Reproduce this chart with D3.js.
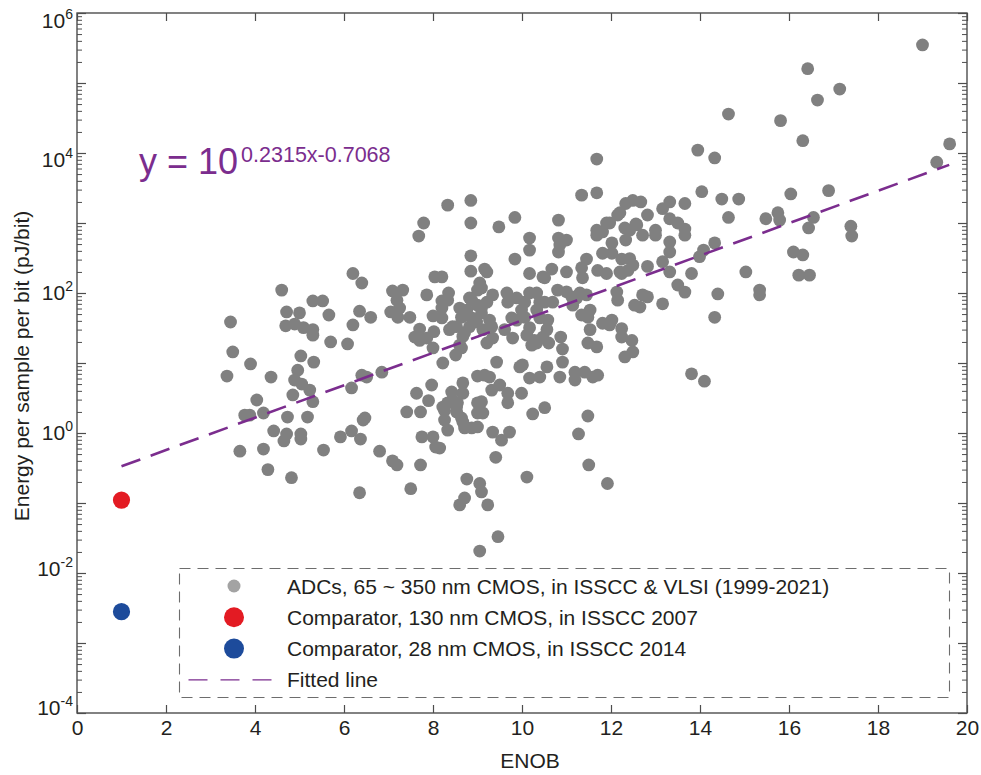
<!DOCTYPE html>
<html>
<head>
<meta charset="utf-8">
<script src="https://cdn.jsdelivr.net/npm/d3@7"></script>
<style>
  body { margin: 0; background: #fff; }
  text { font-family: "Liberation Sans", Arial, sans-serif; }
</style>
</head>
<body>
<div id="chart"></div>
<script>
// ---- data: [ENOB, energy per sample per bit (pJ/bit)]
const adcPoints = [
  [19.0,3.5e5],[16.42,1.6e5],[17.14,8.2e4],[16.64,5.7e4],[14.64,3.6e4],[15.81,2.9e4],[16.31,1.5e4],
  [19.61,1.35e4],[13.95,1.1e4],[14.33,8500],[19.32,7400],[11.68,8200],
  [14.04,2800],[16.04,2600],[16.89,2900],[14.49,2200],[14.87,2200],[13.66,1900],[13.32,2000],
  [12.67,2000],[12.49,2100],[12.33,1900],[13.16,1600],[12.82,1300],[14.64,1200],[15.75,1400],
  [15.79,1100],[15.48,1150],[16.55,1200],[16.44,850],[17.39,900],[17.41,650],[13.32,1150],
  [13.5,1000],[13.66,820],[13.66,670],[13.0,790],[13.0,670],[12.71,670],[12.56,970],[12.42,790],
  [14.33,520],[14.08,410],[13.99,330],[13.32,535],[13.32,385],[13.16,280],[13.32,200],[16.1,385],
  [16.31,350],[12.2,1400],[12.31,850],[12.33,570],[12.82,240],[12.24,305],[12.42,310],[12.49,250],
  [12.38,210],[12.24,190],[13.81,190],[15.03,200],[16.22,180],[16.46,180],
  [8.33,1800],[8.85,2100],[8.85,1000],[7.79,1000],[7.68,650],[9.48,880],[9.84,1200],[10.82,1100],
  [11.34,2500],[11.68,2700],[10.17,610],[10.17,410],[10.82,610],[11.0,570],[10.82,385],[8.85,340],
  [9.84,305],[8.85,205],[9.16,220],[8.04,170],[8.2,170],[10.17,190],[10.67,220],[10.47,170],
  [11.0,200],[11.45,305],[11.34,230],[11.7,210],[11.9,190],[11.68,790],[11.68,670],[11.9,1000],
  [11.97,1000],[12.15,1300],[12.58,940],[12.02,520],[11.81,370],[12.02,370],[12.2,200],[10.85,485],
  [11.81,745],[9.21,200],[8.35,100],[10.51,165],[11.36,165],[13.5,130],[13.66,103],[14.4,97],
  [14.33,45],[13.16,70],[12.71,94],[12.82,88],[12.53,67],[12.65,63],[12.13,103],[12.15,79],
  [12.02,41],[12.24,31],[12.24,23.5],[12.47,21],[12.49,14.4],[12.31,12.2],[11.81,37],[11.97,35],
  [11.48,45],[11.53,30],[11.48,19.3],[11.68,17],[11.34,48.5],[11.14,67],[11.23,85],[11.3,100],
  [11.45,94],[11.53,57],[10.8,110],[11.0,104],[11.12,88],[10.69,74],[10.51,74],[10.33,100],
  [10.4,74],[10.33,57],[10.4,44],[10.58,41],[10.56,30],[10.17,100],[10.06,74],[9.99,57],
  [10.06,45],[10.17,32],[10.28,21],[9.88,41],[9.77,44],[9.66,100],[9.68,74],[9.88,85],[9.34,94],
  [9.21,74],[9.09,61],[9.05,139],[9.09,118],
  [8.87,79],[8.76,57],[8.6,61],[8.64,45],[8.87,44],[8.98,38.5],[9.09,52],[9.27,41],[9.32,33],
  [8.82,33],[8.71,27],[9.12,30],[9.0,110],[8.82,85],[9.0,67],[8.67,24],[8.6,18],[8.51,13],
  [8.64,16.4],[8.44,33],[8.37,30],[8.33,79],[9.34,22.7],[9.21,19.3],[9.61,30],[9.79,22.7],
  [10.11,25],[10.22,18],[10.33,19.3],[10.6,19.3],[10.87,23.5],[10.91,15.8],[10.47,23.5],[8.22,10],
  [9.43,10.3],[9.16,6.7],[9.27,6.3],[9.95,8.8],[10.01,9.4],[10.17,6.1],[10.4,6.3],[10.56,8.8],
  [10.85,6.3],[10.91,10.3],[11.19,7.4],[11.19,5.7],[11.41,7.4],[11.59,6.3],[11.7,6.7],[8.67,5.2],
  [8.67,3.7],[8.42,3.85],[8.33,2.7],[8.22,2.35],[8.55,2.7],[8.53,2.0],[8.64,1.64],[8.71,1.18],
  [8.87,1.18],[9.0,1.22],[8.26,1.53],[8.33,1.1],[9.09,2.8],[9.12,1.93],[9.32,4.1],[9.5,4.85],
  [9.68,3.7],[9.68,2.7],[9.99,3.7],[9.34,1.03],[9.54,0.79],[9.72,1.03],[10.24,1.87],[10.51,2.3],
  [11.48,1.75],[11.27,0.97],[9.41,0.45],[10.11,0.235],[8.76,0.22],[9.05,0.19],[9.09,0.144],
  [9.23,0.094],[8.71,0.118],[8.6,0.094],[11.5,0.35],[11.92,0.19],[13.81,7.0],[14.1,5.5],[8.15,0.61],
  [15.34,110],[15.34,94],[9.05,0.0206],[9.46,0.033],
  [6.2,190],[6.4,139],[4.6,110],[3.45,38.5],[4.71,53.6],[5.0,52],[5.3,77],[5.52,77],[5.66,48.5],
  [6.35,55],[6.6,45],[6.2,35],[4.69,34],[4.89,36],[5.09,32],[5.3,30],[5.3,25],[5.7,20],[6.08,18.7],
  [7.09,107],[7.32,110],[7.19,79],[7.25,61],[7.05,53.6],[7.21,45],[7.48,45],[7.86,94],[8.2,77],
  [8.2,61],[8.0,47],[8.2,44],[7.7,30.5],[7.59,23.5],[7.7,21],[7.86,22.7],[8.02,28],[8.53,33],
  [8.0,16.4],[3.5,14.4],[3.9,9.7],[3.37,6.5],[4.36,6.3],[5.03,12.6],[5.32,10.3],[4.96,7.9],
  [4.89,5.7],[5.05,5.0],[5.23,4.1],[5.3,2.8],[4.85,3.5],[4.04,2.96],[3.77,1.8],[3.88,1.8],
  [4.19,1.93],[4.73,1.69],[5.18,1.69],[4.42,1.07],[4.71,0.97],[4.65,0.77],[5.03,0.97],[5.03,0.82],
  [6.17,4.4],[6.4,6.7],[6.51,6.3],[6.85,7.4],[6.43,1.53],[6.47,1.64],[6.17,1.07],[5.92,0.88],
  [6.37,0.82],[5.54,0.57],[3.66,0.55],[4.19,0.59],[4.29,0.3],[4.82,0.23],[6.8,0.55],[7.09,0.4],
  [7.19,0.35],[7.72,0.35],[6.35,0.14],[7.5,0.16],[7.41,2.0],[7.72,2.0],[7.63,3.7],[7.9,2.9],
  [7.97,4.85],[7.75,0.88],[8.0,0.88],[8.06,0.63],[8.26,2.1],[8.44,2.96],[8.53,2.35],[8.67,1.44],
  [9.0,2.7],[9.0,1.93],[9.0,6.5]
];

const compEnob   = [1, 1];
const compEnergy = [0.11, 0.0028];
const compColors = ["#e31b23", "#1d4b9b"];

const fitSlope = 0.2315;
const fitIntercept = -0.7068;
const fitRange = [1, 19.6];

const xTicks = [0, 2, 4, 6, 8, 10, 12, 14, 16, 18, 20];
const yExps  = [-4, -2, 0, 2, 4, 6];

const legendLabels = [
  "ADCs, 65 ~ 350 nm CMOS, in ISSCC & VLSI (1999-2021)",
  "Comparator, 130 nm CMOS, in ISSCC 2007",
  "Comparator, 28 nm CMOS, in ISSCC 2014",
  "Fitted line"
];

// ---- layout
const W = 981, H = 775;
const plotL = 77, plotR = 967, plotT = 13, plotB = 713;
const axisColor = "#4d4d4d", textColor = "#231f20", purple = "#7b2d8e", dotGray = "#808080";
// baseline offsets of the y tick labels (the original nudges the top ones down)
const yLabelShift = {"-4": 2, "-2": 3, "0": 7, "2": 7, "4": 14, "6": 15};

const x = d3.scaleLinear().domain([0, 20]).range([plotL, plotR]);
const y = d3.scaleLog().domain([1e-4, 1e6]).range([plotB, plotT]);

const yMinor = [];
for (let k = -4; k < 6; k++)
  for (let m = 2; m <= 9; m++) yMinor.push(m * Math.pow(10, k));
const yDecadeTicks = d3.range(-4, 7).map(e => Math.pow(10, e));

const svg = d3.select("#chart").append("svg")
  .attr("width", W).attr("height", H)
  .style("background", "#fff");

function styleAxis(g, w) {
  g.select(".domain").remove();
  g.selectAll("line").attr("stroke", axisColor).attr("stroke-width", w || 1.2);
  g.selectAll("text").attr("font-size", 21).attr("fill", textColor)
    .attr("font-family", '"Liberation Sans", Arial, sans-serif');
}

// x axes
svg.append("g").attr("transform", `translate(0,${plotB})`)
  .call(d3.axisBottom(x).tickValues(xTicks).tickSize(-8).tickPadding(7).tickFormat(d3.format("d")))
  .call(g => styleAxis(g));
svg.append("g").attr("transform", `translate(0,${plotT})`)
  .call(d3.axisTop(x).tickValues(xTicks).tickSize(-8).tickFormat(""))
  .call(g => styleAxis(g));

// y axes (major + minor, both sides)
svg.append("g").attr("transform", `translate(${plotL},0)`)
  .call(d3.axisLeft(y).tickValues(yDecadeTicks).tickSize(-9).tickFormat(""))
  .call(g => styleAxis(g));
svg.append("g").attr("transform", `translate(${plotL},0)`)
  .call(d3.axisLeft(y).tickValues(yMinor).tickSize(-5).tickFormat(""))
  .call(g => styleAxis(g, 1));
svg.append("g").attr("transform", `translate(${plotR},0)`)
  .call(d3.axisRight(y).tickValues(yDecadeTicks).tickSize(-9).tickFormat(""))
  .call(g => styleAxis(g));
svg.append("g").attr("transform", `translate(${plotR},0)`)
  .call(d3.axisRight(y).tickValues(yMinor).tickSize(-5).tickFormat(""))
  .call(g => styleAxis(g, 1));

// frame
svg.append("rect")
  .attr("x", plotL).attr("y", plotT)
  .attr("width", plotR - plotL).attr("height", plotB - plotT)
  .attr("fill", "none").attr("stroke", axisColor).attr("stroke-width", 1.4);

// y tick labels: 10^n
const yLab = svg.append("g").selectAll("text").data(yExps).join("text")
  .attr("x", plotL - 4)
  .attr("y", d => y(Math.pow(10, d)) + yLabelShift[d])
  .attr("text-anchor", "end")
  .attr("font-size", 21)
  .attr("fill", textColor);
yLab.append("tspan").text("10");
yLab.append("tspan").attr("font-size", 14).attr("dy", -9).text(d => d);

// axis titles
svg.append("text")
  .attr("transform", "translate(29,366) rotate(-90)")
  .attr("text-anchor", "middle")
  .attr("font-size", 21).attr("fill", textColor)
  .text("Energy per sample per bit (pJ/bit)");
svg.append("text")
  .attr("x", 530).attr("y", 768)
  .attr("text-anchor", "middle")
  .attr("font-size", 21).attr("fill", textColor)
  .text("ENOB");

// ADC scatter
svg.append("g").selectAll("circle").data(adcPoints).join("circle")
  .attr("cx", d => x(d[0]))
  .attr("cy", d => y(d[1]))
  .attr("r", 6.4)
  .attr("fill", dotGray);

// comparators
svg.append("g").selectAll("circle").data(compEnob).join("circle")
  .attr("cx", d => x(d))
  .attr("cy", (d, i) => y(compEnergy[i]))
  .attr("r", 8.6)
  .attr("fill", (d, i) => compColors[i]);

// fitted line
const fitLine = d3.line()
  .x(d => x(d))
  .y(d => y(Math.pow(10, fitSlope * d + fitIntercept)));
svg.append("path")
  .datum(fitRange)
  .attr("d", fitLine)
  .attr("fill", "none")
  .attr("stroke", purple)
  .attr("stroke-width", 2.6)
  .attr("stroke-dasharray", "20,11");

// equation
const eq = svg.append("text")
  .attr("x", 139).attr("y", 174)
  .attr("fill", purple)
  .attr("font-size", 36);
eq.append("tspan").text("y = 10");
eq.append("tspan").attr("font-size", 21.5).attr("dy", -12).attr("dx", 3)
  .text(`${fitSlope}x${fitIntercept}`);

// legend
const lg = svg.append("g");
lg.append("rect")
  .attr("x", 179.5).attr("y", 568.5)
  .attr("width", 770).attr("height", 129)
  .attr("fill", "#fff")
  .attr("stroke", "#6d6d6d").attr("stroke-width", 1.1)
  .attr("stroke-dasharray", "11,7");

const rowY = i => 586 + i * 31.3;
const legendMarks = [
  {color: "#a3a3a3", r: 6.5},
  {color: compColors[0], r: 10},
  {color: compColors[1], r: 10}
];
lg.selectAll("circle.mark").data(legendMarks).join("circle")
  .attr("class", "mark")
  .attr("cx", 234).attr("cy", (d, i) => rowY(i))
  .attr("r", d => d.r).attr("fill", d => d.color);
lg.append("line")
  .attr("x1", 188.5).attr("x2", 272).attr("y1", rowY(3)).attr("y2", rowY(3))
  .attr("stroke", purple).attr("stroke-width", 1.4)
  .attr("stroke-dasharray", "19,13");
lg.selectAll("text").data(legendLabels).join("text")
  .attr("x", 287).attr("y", (d, i) => rowY(i) + 7.5)
  .attr("font-size", 21).attr("fill", textColor)
  .text(d => d);
</script>
</body>
</html>
